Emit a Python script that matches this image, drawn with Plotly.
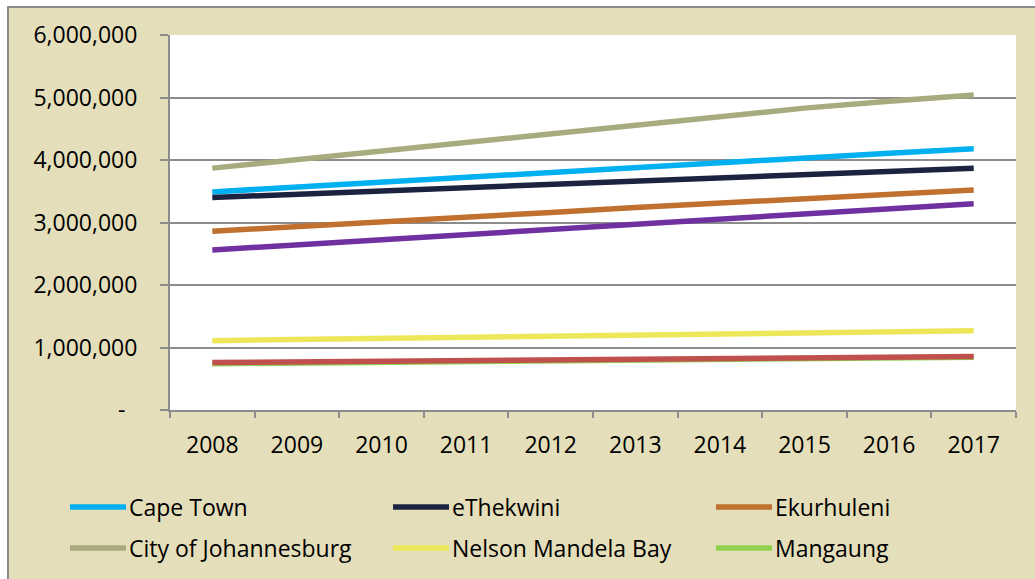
import plotly.graph_objects as go

years = ["2008", "2009", "2010", "2011", "2012", "2013", "2014", "2015", "2016", "2017"]

cape_town = [3490000, 3570000, 3650000, 3730000, 3810000, 3890000, 3970000, 4040000, 4110000, 4180000]
ethekwini = [3400000, 3450000, 3510000, 3560000, 3620000, 3670000, 3720000, 3770000, 3820000, 3870000]
ekurhuleni = [2860000, 2930000, 3010000, 3080000, 3160000, 3240000, 3310000, 3380000, 3450000, 3520000]
johannesburg = [3870000, 4010000, 4150000, 4290000, 4430000, 4570000, 4710000, 4830000, 4940000, 5040000]
nelson_mandela_bay = [1110000, 1130000, 1150000, 1160000, 1180000, 1200000, 1220000, 1230000, 1250000, 1270000]
mangaung = [740000, 750000, 770000, 780000, 790000, 800000, 810000, 820000, 830000, 845000]
tshwane = [2560000, 2640000, 2730000, 2810000, 2900000, 2980000, 3060000, 3140000, 3220000, 3300000]
buffalo_city = [760000, 770000, 780000, 790000, 800000, 810000, 820000, 830000, 840000, 855000]

y_tickvals = [0, 1000000, 2000000, 3000000, 4000000, 5000000, 6000000]
y_ticktext = ["-\u00a0\u00a0", "1,000,000", "2,000,000", "3,000,000", "4,000,000", "5,000,000", "6,000,000"]

# (name, values, color, in legend)
series = [
    ("City of Johannesburg", johannesburg, "#A8AB7D", True),
    ("Cape Town", cape_town, "#00B0F0", True),
    ("eThekwini", ethekwini, "#1C2340", True),
    ("Ekurhuleni", ekurhuleni, "#C0712F", True),
    ("Tshwane", tshwane, "#7030A0", False),
    ("Nelson Mandela Bay", nelson_mandela_bay, "#EDE85A", True),
    ("Mangaung", mangaung, "#92D050", True),
    ("Buffalo City", buffalo_city, "#C0504D", False),
]
legend_order = ["Cape Town", "eThekwini", "Ekurhuleni",
                "City of Johannesburg", "Nelson Mandela Bay", "Mangaung"]

W, H = 1035, 579
L, R, T, B = 170, 1016, 35, 410
FONT = "Open Sans"
FS = 23
BEIGE = "#E4DEBA"
GRID = "#8C8C8C"

def px_x(p):
    return (p - L) / (R - L)

def px_y(p):
    return (B - p) / (B - T)

fig = go.Figure()
for name, vals, color, _ in series:
    fig.add_trace(go.Scatter(x=years, y=vals, name=name, mode="lines",
                             line=dict(color=color, width=5.5), showlegend=False))

shapes = [
    dict(type="rect", xref="paper", yref="paper", layer="below",
         x0=px_x(8), x1=px_x(1060), y0=px_y(7), y1=px_y(600),
         fillcolor=BEIGE, line=dict(color="#8A8A8A", width=2)),
    dict(type="rect", xref="paper", yref="paper", layer="below",
         x0=0, x1=1, y0=0, y1=1, fillcolor="white", line=dict(width=0)),
]
annotations = []
color_of = {s[0]: s[2] for s in series}
col_line_x = [(70, 126), (393, 449), (716, 772)]
row_y = [507, 548]
for i, name in enumerate(legend_order):
    r, c = divmod(i, 3)
    x0, x1 = col_line_x[c]
    yy = px_y(row_y[r])
    shapes.append(dict(type="line", xref="paper", yref="paper",
                       x0=px_x(x0), x1=px_x(x1), y0=yy, y1=yy,
                       line=dict(color=color_of[name], width=5.5)))
    annotations.append(dict(xref="paper", yref="paper", x=px_x(x1 + 1), y=yy,
                            text=name, showarrow=False, xanchor="left", yanchor="middle",
                            font=dict(family=FONT, size=FS, color="#000000")))

fig.update_layout(
    width=W, height=H,
    margin=dict(l=L, r=W - R, t=T, b=H - B),
    paper_bgcolor="white", plot_bgcolor="white",
    font=dict(family=FONT, size=FS, color="#000000"),
    shapes=shapes, annotations=annotations, showlegend=False,
    xaxis=dict(type="category", range=[-0.5, 9.5], showgrid=False,
               showline=True, linecolor=GRID, linewidth=2,
               ticks="outside", tickson="boundaries", ticklen=6, tickcolor=GRID, tickwidth=2,
               ticklabelstandoff=13, tickfont=dict(family=FONT, size=FS)),
    yaxis=dict(range=[0, 6000000], tickvals=y_tickvals, ticktext=y_ticktext,
               showgrid=True, gridcolor=GRID, gridwidth=2, zeroline=False,
               showline=True, linecolor=GRID, linewidth=2,
               ticks="outside", ticklen=8, tickcolor=GRID, tickwidth=2,
               ticklabelstandoff=18, tickfont=dict(family=FONT, size=FS)),
)

fig.write_html("out.html")
